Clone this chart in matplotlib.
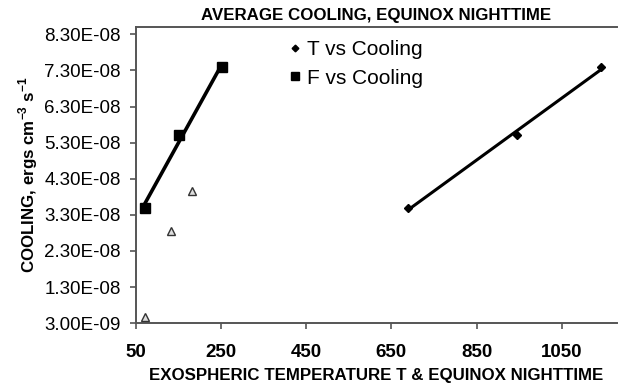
import numpy as np
import matplotlib
matplotlib.use("Agg")
import matplotlib.pyplot as plt

plt.rcParams['font.family'] = ['Liberation Sans', 'DejaVu Sans']
plt.rcParams['mathtext.fontset'] = 'custom'
plt.rcParams['mathtext.rm'] = 'Liberation Sans'
plt.rcParams['mathtext.bf'] = 'Liberation Sans:bold'

# data
temp_T = [690, 945, 1143]
cool_T = [3.50e-08, 5.50e-08, 7.40e-08]

flux_F = [70, 151, 252]
cool_F = [3.50e-08, 5.50e-08, 7.40e-08]

tri_x = [70, 131, 181]
tri_y = [4.6e-09, 2.86e-08, 3.97e-08]

yticks = [3.0e-09 + k * 1.0e-08 for k in range(9)]
xticks = [50, 250, 450, 650, 850, 1050]

fig = plt.figure(figsize=(6.27, 3.87), dpi=100)
ax = fig.add_axes([0.217, 0.165, 0.767, 0.765])

# linear trendlines over each series' range
pT = np.polyfit(temp_T, cool_T, 1)
xT = np.array([min(temp_T), max(temp_T)])
ax.plot(xT, np.polyval(pT, xT), color='black', lw=2.2, solid_capstyle='butt', zorder=2)

pF = np.polyfit(flux_F, cool_F, 1)
xF = np.array([min(flux_F), max(flux_F)])
ax.plot(xF, np.polyval(pF, xF), color='black', lw=2.6, solid_capstyle='butt', zorder=2)

hT, = ax.plot(temp_T, cool_T, ls='none', marker='D', ms=4, color='black', zorder=3, label='T vs Cooling')
hF, = ax.plot(flux_F, cool_F, ls='none', marker='s', ms=6.5, color='black', zorder=3, label='F vs Cooling')
ax.plot(tri_x, tri_y, ls='none', marker='^', ms=6, mfc='#dddddd', mec='#333333', mew=1.0, zorder=3)

ax.set_xlim(50, 1180)
ax.set_ylim(3.0e-09, 8.5e-08)
ax.set_xticks(xticks)
ax.set_yticks(yticks)
ax.set_yticklabels(['{:.2E}'.format(v) for v in yticks], fontsize=13.5)
ax.set_xticklabels([str(v) for v in xticks], fontsize=13.5, fontweight='bold')
ax.tick_params(axis='y', direction='out', length=4, width=1.2, color='#555555', pad=7)
ax.tick_params(axis='x', direction='out', length=4, width=1.2, color='#555555', pad=11)

for s in ['left', 'bottom', 'top']:
    ax.spines[s].set_color('#555555')
    ax.spines[s].set_linewidth(1.4)
ax.spines['right'].set_visible(False)

ax.set_title('AVERAGE COOLING, EQUINOX NIGHTTIME', fontsize=12.2, fontweight='bold', pad=5)
ax.set_xlabel('EXOSPHERIC TEMPERATURE T & EQUINOX NIGHTTIME', fontsize=12.2, fontweight='bold', labelpad=5)
ax.set_ylabel(r'COOLING, ergs cm$^{\mathbf{-3}}$ s$^{\mathbf{-1}}$', fontsize=12.2, fontweight='bold', labelpad=3)

ax.legend(handles=[hT, hF], loc='upper left', bbox_to_anchor=(0.32, 0.955), frameon=False,
          fontsize=15, handlelength=0.5, handletextpad=0.3, labelspacing=0.45, borderpad=0,
          borderaxespad=0, markerscale=0.85)

fig.savefig('out.png', dpi=100)
